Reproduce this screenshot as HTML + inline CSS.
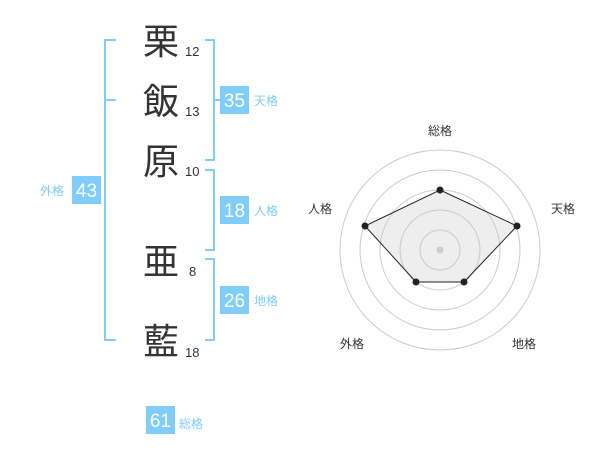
<!DOCTYPE html>
<html><head><meta charset="utf-8"><style>
body{margin:0;width:600px;height:470px;background:#fff;overflow:hidden;font-family:"Liberation Sans","Noto Sans CJK JP",sans-serif}
</style></head><body>
<svg width="600" height="470" xmlns="http://www.w3.org/2000/svg" font-family="Liberation Sans, Noto Sans CJK JP, sans-serif">
<g stroke="#7fcdf8" stroke-width="2" fill="none">
<path d="M116 40H105V340H116M105 100H116"/>
<path d="M205 40H214V160H205M214 100H220"/>
<path d="M205 170H214V250H205"/>
<path d="M205 259H214V340H205"/>
</g>
<g fill="#7fcdf8">
<rect x="220" y="86" width="29" height="28"/>
<rect x="220" y="196" width="29" height="28"/>
<rect x="220" y="286" width="29" height="28"/>
<rect x="72" y="176" width="29" height="28"/>
<rect x="146" y="406" width="29" height="28"/>
</g>
<g fill="#fff" font-size="19" text-anchor="middle">
<text x="234.5" y="107">35</text><text x="234.5" y="217">18</text><text x="234.5" y="307">26</text>
<text x="86.5" y="197">43</text><text x="160.5" y="427">61</text>
</g>
<g fill="#7fcdf8" font-size="12">
<text x="254" y="105">天格</text><text x="254" y="215">人格</text><text x="254" y="305">地格</text>
<text x="40" y="195">外格</text><text x="179" y="428">総格</text>
</g>
<g fill="#333" font-size="36" text-anchor="middle">
<text x="161" y="54">栗</text><text x="161" y="114">飯</text><text x="161" y="174">原</text>
<text x="161" y="274">亜</text><text x="161" y="354">藍</text>
</g>
<g fill="#333" font-size="13">
<text x="185" y="56">12</text><text x="185" y="116">13</text><text x="185" y="176">10</text>
<text x="189" y="276">8</text><text x="185" y="357">18</text>
</g>
<g stroke="#ccc" fill="none">
<circle cx="440" cy="250" r="20"/><circle cx="440" cy="250" r="40"/><circle cx="440" cy="250" r="60"/><circle cx="440" cy="250" r="80"/><circle cx="440" cy="250" r="100"/>
</g>
<polygon points="440,190 517,226 464,282 416,282 365,226" fill="rgba(200,200,200,0.3)" stroke="#222" stroke-width="1"/>
<circle cx="440" cy="250" r="3.5" fill="#ccc"/>
<g fill="#222">
<circle cx="440" cy="190" r="3.5"/><circle cx="517" cy="226" r="3.5"/><circle cx="464" cy="282" r="3.5"/><circle cx="416" cy="282" r="3.5"/><circle cx="365" cy="226" r="3.5"/>
</g>
<g fill="#333" font-size="12" text-anchor="middle">
<text x="440" y="135">総格</text><text x="563" y="213">天格</text><text x="320" y="213">人格</text>
<text x="352" y="348">外格</text><text x="524" y="348">地格</text>
</g>
</svg>
</body></html>
